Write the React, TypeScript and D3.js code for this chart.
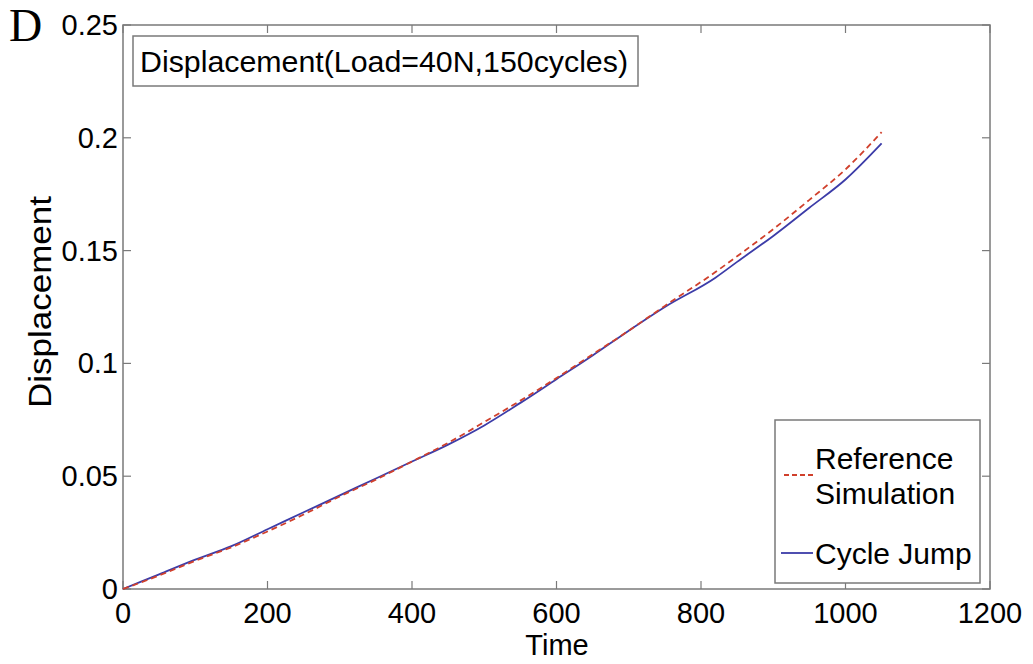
import React from "react";
import * as d3 from "d3";

const timeValues = [0, 50, 100, 150, 200, 250, 300, 350, 400, 450, 500, 550, 600, 650, 700, 750, 820, 850, 900, 950, 1000, 1050];
const cycleJump = [0, 0.0065, 0.013, 0.019, 0.0265, 0.034, 0.0415, 0.049, 0.0565, 0.064, 0.0725, 0.0825, 0.093, 0.1035, 0.1145, 0.125, 0.138, 0.145, 0.1565, 0.169, 0.1815, 0.1975];
const referenceSim = [0, 0.006, 0.0125, 0.0185, 0.0255, 0.033, 0.041, 0.0485, 0.0565, 0.0648, 0.074, 0.0835, 0.0935, 0.104, 0.1145, 0.1255, 0.1405, 0.1475, 0.1595, 0.1725, 0.186, 0.2025];
const xTicks = [0, 200, 400, 600, 800, 1000, 1200];
const yTicks = [0, 0.05, 0.1, 0.15, 0.2, 0.25];
const yTickLabels = ["0", "0.05", "0.1", "0.15", "0.2", "0.25"];

export default function App() {
  const W = 1033, H = 664;
  const L = 123, R = 990, T = 25, B = 589;
  const x = d3.scaleLinear().domain([0, 1200]).range([L, R]);
  const y = d3.scaleLinear().domain([0, 0.25]).range([B, T]);
  const line = d3.line<number>().x((_, i) => x(timeValues[i])).y((v) => y(v)).curve(d3.curveMonotoneX);
  const font = "'Liberation Sans', Arial, sans-serif";
  const frame = "#7a7a7a";
  const tickLen = 8;
  const ink = "#000";
  return (
    <svg width={W} height={H} style={{ position: "absolute", left: 0, top: 0, background: "#fff" }}>
      <rect x={0} y={0} width={W} height={H} fill="#fff" />
      <rect x={L} y={T} width={R - L} height={B - T} fill="none" stroke={frame} strokeWidth={1.5} />
      {xTicks.map((t) => (
        <g key={"x" + t}>
          <line x1={x(t)} x2={x(t)} y1={B} y2={B - tickLen} stroke={frame} strokeWidth={1.2} />
          <line x1={x(t)} x2={x(t)} y1={T} y2={T + tickLen} stroke={frame} strokeWidth={1.2} />
          <text x={x(t)} y={623} textAnchor="middle" fontFamily={font} fontSize={29} fill={ink}>{t}</text>
        </g>
      ))}
      {yTicks.map((t, i) => (
        <g key={"y" + t}>
          <line x1={L} x2={L + tickLen} y1={y(t)} y2={y(t)} stroke={frame} strokeWidth={1.2} />
          <line x1={R} x2={R - tickLen} y1={y(t)} y2={y(t)} stroke={frame} strokeWidth={1.2} />
          <text x={L - 5} y={y(t) + 10} textAnchor="end" fontFamily={font} fontSize={29} fill={ink}>{yTickLabels[i]}</text>
        </g>
      ))}
      <text x={557} y={655} textAnchor="middle" fontFamily={font} fontSize={29} fill={ink}>Time</text>
      <text transform={`translate(51,302) rotate(-90)`} textAnchor="middle" fontFamily={font} fontSize={31} fill={ink} textLength={212} lengthAdjust="spacingAndGlyphs">Displacement</text>
      <text x={9} y={41} fontFamily="'Liberation Serif', 'Times New Roman', serif" fontSize={46} fill={ink}>D</text>

      <path d={line(cycleJump) || ""} fill="none" stroke="#3c3ca8" strokeWidth={1.8} />
      <path d={line(referenceSim) || ""} fill="none" stroke="#d0402c" strokeWidth={1.8} strokeDasharray="6,4" />

      <rect x={133} y={36} width={505} height={50} fill="#fff" stroke={frame} strokeWidth={1.5} />
      <text x={140} y={72} fontFamily={font} fontSize={29} fill={ink} textLength={488} lengthAdjust="spacingAndGlyphs">Displacement(Load=40N,150cycles)</text>

      <rect x={775} y={420} width={205} height={163} fill="#fff" stroke={frame} strokeWidth={1.5} />
      <line x1={784} x2={813} y1={475} y2={475} stroke="#d0402c" strokeWidth={1.8} strokeDasharray="5,3" />
      <text x={815} y={469} fontFamily={font} fontSize={30} fill={ink}>Reference</text>
      <text x={815} y={504} fontFamily={font} fontSize={30} fill={ink}>Simulation</text>
      <line x1={781} x2={813} y1={553} y2={553} stroke="#3c3ca8" strokeWidth={1.8} />
      <text x={815} y={564} fontFamily={font} fontSize={30} fill={ink}>Cycle Jump</text>
    </svg>
  );
}
